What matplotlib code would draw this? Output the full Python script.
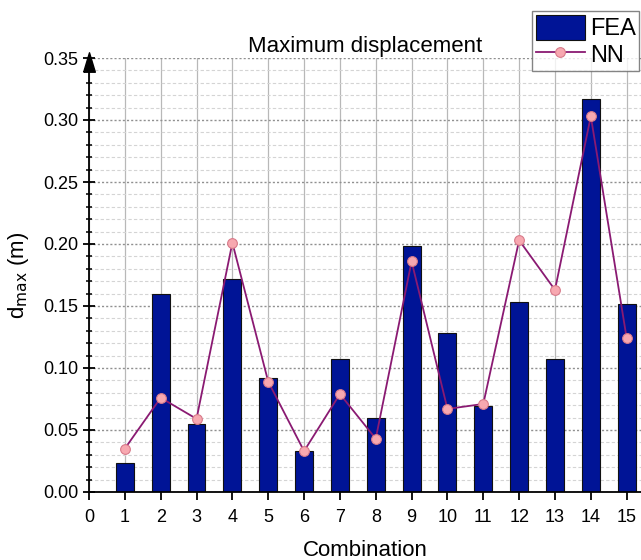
import numpy as np
import matplotlib
matplotlib.use("Agg")
import matplotlib.pyplot as plt
from matplotlib.ticker import MultipleLocator

plt.rcParams['font.family'] = ['Liberation Sans', 'DejaVu Sans']

combination = np.arange(1, 16)
fea = [0.0235, 0.160, 0.055, 0.172, 0.092, 0.033, 0.107, 0.060,
       0.198, 0.128, 0.069, 0.153, 0.107, 0.317, 0.152]
nn = [0.035, 0.076, 0.059, 0.201, 0.089, 0.033, 0.079, 0.043,
      0.186, 0.067, 0.071, 0.203, 0.163, 0.303, 0.124]
x_ticks = list(range(0, 16))

fig = plt.figure(figsize=(6.41, 5.6), dpi=100)
ax = fig.add_axes([89/641, 1 - 492/560, 1 - 89/641, 434/560])

# grid first, then data on top
ax.set_axisbelow(True)
ax.xaxis.set_major_locator(MultipleLocator(1))
ax.yaxis.set_major_locator(MultipleLocator(0.05))
ax.yaxis.set_minor_locator(MultipleLocator(0.01))
ax.grid(axis='x', which='major', color='#b8b8b8', lw=0.9, ls='-')
ax.grid(axis='y', which='major', color='#909090', lw=1.0, ls=(0, (1.5, 1.5)))
ax.grid(axis='y', which='minor', color='#d4d4d4', lw=0.8, ls=(0, (3, 2)))

bars = ax.bar(combination, fea, width=0.5, color='#001496', edgecolor='#111111',
              lw=0.8, label='FEA', zorder=2)
line, = ax.plot(combination, nn, color='#8a1a72', lw=1.3, marker='o', ms=7,
                mfc='#f7a8b0', mec='#d87a8a', mew=0.8, label='NN', zorder=3)

ax.set_xlim(0, 15.4)
ax.set_ylim(0, 0.35)
ax.set_xticks(x_ticks)
ax.set_yticks(np.arange(0, 0.351, 0.05))
ax.set_yticklabels([f"{v:.2f}" for v in np.arange(0, 0.351, 0.05)])

for s in ['top', 'right']:
    ax.spines[s].set_visible(False)
ax.spines['left'].set_linewidth(1.3)
ax.spines['bottom'].set_linewidth(1.3)
ax.tick_params(axis='x', which='major', direction='out', length=6,
               width=1.3, labelsize=13, pad=6)
ax.tick_params(axis='y', which='major', direction='inout', length=9,
               width=1.3, labelsize=13, pad=3)
ax.tick_params(axis='y', which='minor', direction='inout', length=5, width=1.1)

# arrow on the y-axis (narrow triangle)
arrow = [(-0.3, -0.5), (0.3, -0.5), (0, 0.5), (-0.3, -0.5)]
ax.plot([0], [0.99], marker=arrow, ms=14, color='black', transform=ax.transAxes,
        clip_on=False, zorder=5)

ax.set_title('Maximum displacement', fontsize=16, pad=4)
ax.set_xlabel('Combination', fontsize=16, labelpad=10)
ax.set_ylabel('d$_{\\mathrm{max}}$ (m)', fontsize=16, labelpad=9)

leg = fig.legend(handles=[bars, line], labels=['FEA', 'NN'], loc='upper left',
                 bbox_to_anchor=(532/641, 1 - 11/560),
                 fontsize=17, frameon=True, fancybox=False, borderpad=0.15,
                 handlelength=2.1, handleheight=1.3, handletextpad=0.2,
                 labelspacing=0.05, borderaxespad=0)
leg.get_frame().set_edgecolor('#666666')
leg.get_frame().set_linewidth(1.0)

fig.savefig('out.png', dpi=100)
